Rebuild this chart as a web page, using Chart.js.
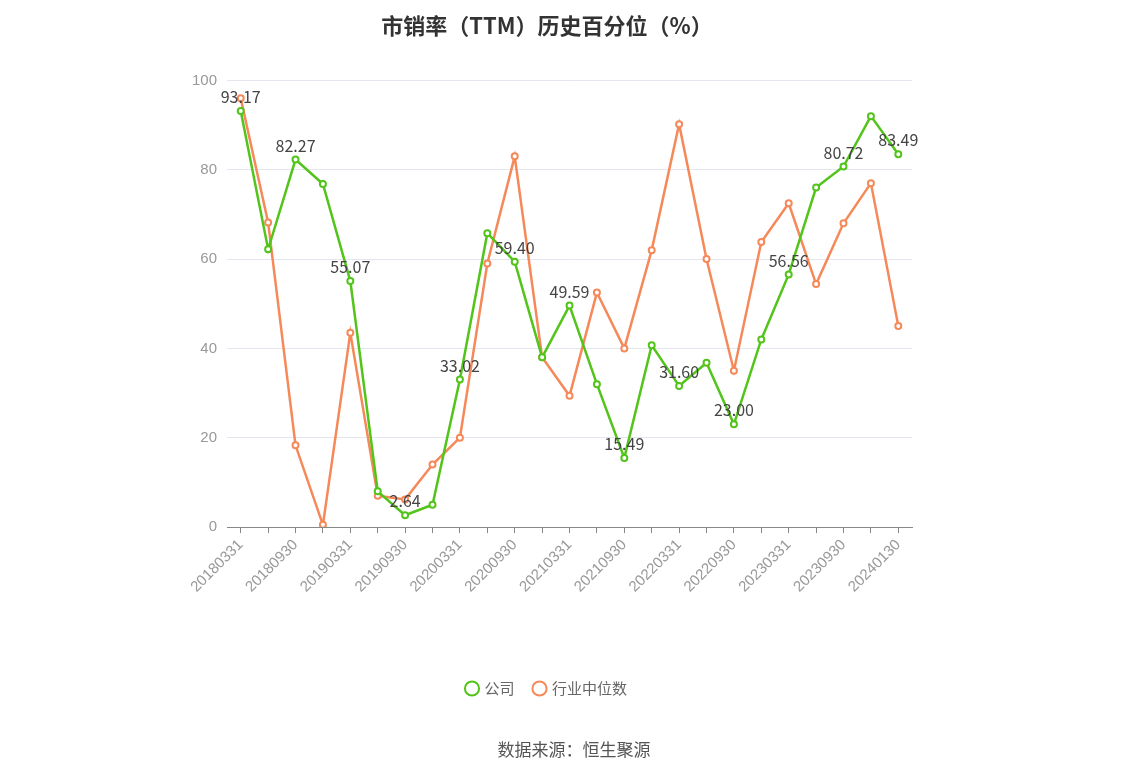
<!DOCTYPE html>
<html><head><meta charset="utf-8">
<script src="https://cdn.jsdelivr.net/npm/chart.js@4/dist/chart.umd.min.js"></script>
<style>html,body{margin:0;background:#fff;}#w{width:1148px;height:776px;position:relative;}
#src{position:absolute;top:736px;width:100%;text-align:center;font:17px "Noto Sans CJK SC";color:#555;}</style>
</head><body><div id="w"><canvas id="c" width="1148" height="776"></canvas><div id="src">数据来源：恒生聚源</div></div>
<script>
const categories=["20180331","20180630","20180930","20181231","20190331","20190630","20190930","20191231","20200331","20200630","20200930","20201231","20210331","20210630","20210930","20211231","20220331","20220630","20220930","20221231","20230331","20230630","20230930","20231231","20240130"];
const company=[93.17,62.2,82.27,76.8,55.07,8.0,2.64,5.0,33.02,65.8,59.40,38.0,49.59,32.0,15.49,40.7,31.60,36.8,23.00,42.0,56.56,76.0,80.72,92.0,83.49];
const industry=[96.0,68.2,18.3,0.5,43.5,7.0,6.2,14.0,20.0,59.0,83.0,38.0,29.4,52.5,40.0,62.0,90.2,60.0,35.0,63.8,72.5,54.4,68.0,77.0,45.0];
const yTicks=[0,20,40,60,80,100];
const labelPlugin={id:'lbl',afterDatasetsDraw(ch){const ctx=ch.ctx,m=ch.getDatasetMeta(0);ctx.save();ctx.font='16px "Noto Sans CJK SC"';ctx.fillStyle='#444';ctx.textAlign='center';ctx.textBaseline='bottom';
m.data.forEach((p,i)=>{if(i%2===0)ctx.fillText(company[i].toFixed(2),p.x,p.y-6);});ctx.restore();}};
new Chart(document.getElementById('c'),{type:'line',data:{labels:categories,datasets:[
{label:'公司',data:company,borderColor:'#52c41a',backgroundColor:'#fff',borderWidth:2.5,pointRadius:3,pointBorderWidth:2,tension:0},
{label:'行业中位数',data:industry,borderColor:'#f5895a',backgroundColor:'#fff',borderWidth:2.5,pointRadius:3,pointBorderWidth:2,tension:0}]},
options:{responsive:false,animation:false,layout:{padding:{left:182,right:236,top:10,bottom:70}},
plugins:{title:{display:true,text:'市销率（TTM）历史百分位（%）',font:{size:22,weight:'bold',family:'Noto Sans CJK SC'},color:'#333',padding:{top:2,bottom:42}},
legend:{position:'bottom',labels:{usePointStyle:true,pointStyle:'circle',boxWidth:10,boxHeight:10,font:{size:15,family:'Noto Sans CJK SC'},color:'#666',padding:20}},tooltip:{enabled:false}},
scales:{y:{min:0,max:100,afterBuildTicks(s){s.ticks=yTicks.map(v=>({value:v}));},ticks:{color:'#999',font:{size:15},padding:10},grid:{color:'#e3e6ee',drawTicks:false},border:{display:false}},
x:{offset:true,afterFit(s){s.height+=62;},grid:{display:true,drawOnChartArea:false,drawTicks:true,tickLength:6,color:'#888'},border:{color:'#888'},ticks:{autoSkip:false,maxRotation:45,minRotation:45,color:'#999',font:{size:15},callback:(v,i)=>i%2===0?categories[i]:''}}}},
plugins:[labelPlugin]});
</script></body></html>
